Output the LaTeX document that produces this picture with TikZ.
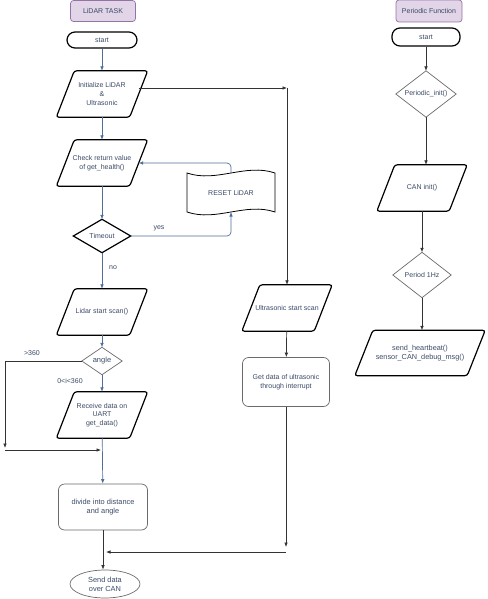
\documentclass[tikz,border=0pt]{standalone}
\usepackage{fontspec}
\setmainfont{Liberation Sans}
\usetikzlibrary{arrows.meta,shapes.geometric,calc}
\definecolor{txt}{HTML}{3A4A66}
\definecolor{bl}{HTML}{4F6F9A}
\definecolor{gr}{HTML}{6A6A6A}
\definecolor{lk}{HTML}{333333}
\definecolor{purf}{HTML}{E1D5E7}
\definecolor{purd}{HTML}{9673A6}
\newcommand{\mypara}[7]{%
  \node[lbl, minimum width=#4pt, minimum height=#5pt] (#1) at (#2,#3) {#7};
  \draw[#6, rounded corners=2.5pt] ($(#1.north west)+(18,0)$) -- (#1.north east) -- ($(#1.south east)+(-18,0)$) -- (#1.south west) -- cycle;
  \coordinate (#1-e) at ($(#1.east)+(-9,0)$);
}
\newcommand{\mydia}[7]{%
  \node[lbl, minimum width=#4pt, minimum height=#5pt] (#1) at (#2,#3) {#7};
  \draw[#6] (#1.north) -- (#1.east) -- (#1.south) -- (#1.west) -- cycle;
}
\begin{document}
\begin{tikzpicture}[x=1pt,y=-1pt,
  font=\fontsize{7}{8.7}\selectfont,
  lbl/.style={inner sep=0pt, align=center, text=txt},
  thickb/.style={draw=black, line width=1.2pt},
  thinb/.style={draw=gr, line width=0.7pt},
  header/.style={lbl, draw=purd, fill=purf, rounded corners=3pt, line width=0.7pt},
  term/.style={lbl, draw=black, line width=1.2pt, rounded corners=8pt},
  rbox/.style={lbl, draw=gr, line width=0.7pt, rounded corners=6pt},
  arr/.style={-{Latex[length=4.5pt,width=3.6pt]}},
  bline/.style={arr, draw=bl, line width=0.7pt},
  kline/.style={arr, draw=lk, line width=0.7pt},
  elab/.style={inner sep=0pt, text=txt}]
\useasboundingbox (0,0) rectangle (487,599);
% ---------- LiDAR column ----------
\node[header, minimum width=65pt, minimum height=21pt] (h1) at (103,11) {LiDAR TASK};
\node[term, minimum width=70pt, minimum height=16pt] (s1) at (102,40) {start};
\mypara{init}{102}{94}{91}{46}{thickb}{Initialize LiDAR\\\&\\Ultrasonic}
\mypara{check}{102}{163}{91}{46}{thickb}{Check return value\\of get\_health()}
\node[lbl, minimum width=88pt, minimum height=38pt] (reset) at (231,193) {RESET LiDAR};
\draw[draw=black, line width=0.8pt] (187,173) .. controls (216.3,183) and (245.7,163) .. (275,173)
  -- (275,212) .. controls (245.7,202) and (216.3,222) .. (187,212) -- cycle;
\coordinate (rtop) at (231,173);
\coordinate (rbot) at (231,212);
\mydia{timeout}{102}{236}{57}{33}{thickb}{Timeout}
\mypara{lscan}{102}{312}{91}{46}{thickb}{Lidar start scan()}
\mydia{angle}{102}{361}{40}{27}{thinb}{\fontsize{7.5}{9}\selectfont angle}
\mypara{recv}{102}{415}{91}{46}{thickb}{Receive data on\\UART\\get\_data()}
\node[rbox, minimum width=89pt, minimum height=46pt] (divide) at (103,507) {\fontsize{7.4}{9.2}\selectfont divide into distance\\\fontsize{7.4}{9.2}\selectfont and angle};
\node[ellipse, lbl, draw=gr, line width=0.7pt, minimum width=70pt, minimum height=28pt] (send) at (105,584) {\fontsize{7.4}{9}\selectfont Send data\\\fontsize{7.4}{9}\selectfont over CAN};
% ---------- Ultrasonic column ----------
\mypara{uscan}{287}{308}{90}{46}{thickb}{Ultrasonic start scan}
\node[rbox, minimum width=87pt, minimum height=49pt] (gdata) at (286,382) {Get data of ultrasonic\\through interrupt};
% ---------- Periodic column ----------
\node[header, minimum width=66pt, minimum height=22pt] (h2) at (429,11) {Periodic Function};
\node[term, minimum width=68pt, minimum height=18pt] (s2) at (426,37) {start};
\mydia{pinit}{426}{94}{60}{46}{thinb}{Periodic\_init()}
\mypara{can}{422}{188}{90}{46}{thickb}{CAN init()}
\mydia{p1hz}{422}{275}{58}{45}{thinb}{Period 1Hz}
\mypara{hb}{420}{353}{130}{45}{thickb}{\fontsize{7.3}{8.8}\selectfont send\_heartbeat()\\\fontsize{7.3}{8.8}\selectfont sensor\_CAN\_debug\_msg()}
% ---------- helper coordinates ----------
\coordinate (c1) at (287,88);
\coordinate (a0) at (5,361);
\coordinate (a1) at (5,448);
\coordinate (a2) at (5,450);
\coordinate (a3) at (101,450);
\coordinate (g1) at (286,547);
\coordinate (g2) at (286,552);
\coordinate (g3) at (106,552);
\coordinate (ycorner) at (231,236);
\coordinate (rcorner) at (231,163);
% ---------- connectors ----------
\draw[bline] (s1) -- (init);
\draw[bline] (init) -- (check);
\draw[bline] (check) -- (timeout);
\draw[bline, rounded corners=4pt] (timeout.east) -- (ycorner) -- (rbot);
\draw[bline, rounded corners=4pt] (rtop) -- (rcorner) -- (check-e);
\draw[bline] (timeout) -- (lscan);
\draw[bline] (lscan) -- (angle);
\draw[bline] (angle) -- (recv);
\draw[bline] (recv) -- (divide);
\draw[kline] (angle.west) -- (a0) -- (a1);
\draw[kline] (a2) -- (a3);
\draw[kline] (divide.south) -- (divide.south |- send.north);
\draw[kline] (init-e |- c1) -- (c1);
\draw[kline] (c1) -- (uscan.north);
\draw[kline] (uscan) -- (gdata);
\draw[kline] (gdata.south) -- (g1);
\draw[kline] (g2) -- (g3);
\draw[kline] (s2) -- (pinit);
\draw[kline] (pinit.south) -- (pinit.south |- can.north);
\draw[kline] (can) -- (p1hz);
\draw[kline] (p1hz.south) -- (p1hz.south |- hb.north);
% ---------- edge labels ----------
\node[elab] (yes) at (159,228) {yes};
\node[elab] (no) at (113,268) {no};
\node[elab] (gt) at (32,353) {>360};
\node[elab] (rng) at (70,381) {0<i<360};
\end{tikzpicture}
\end{document}
